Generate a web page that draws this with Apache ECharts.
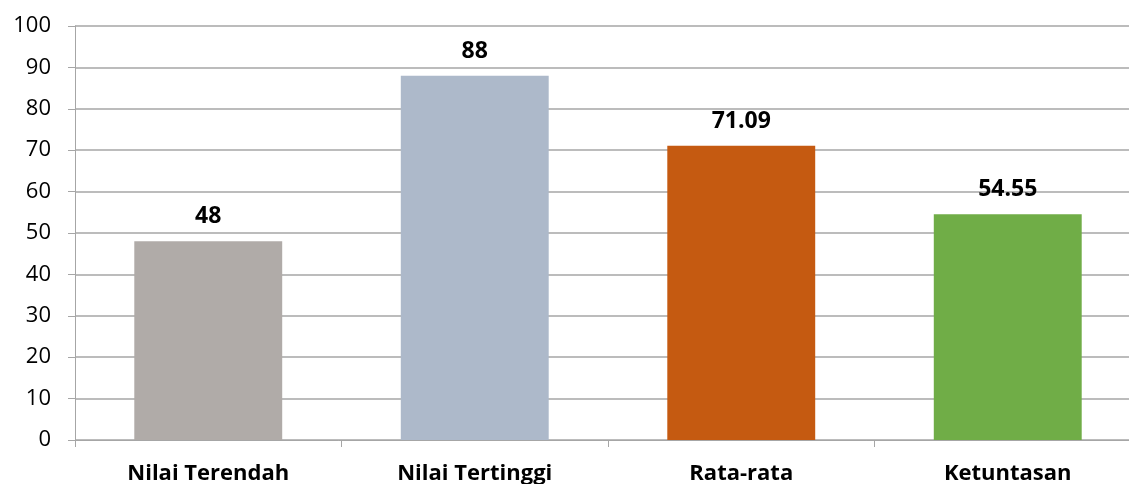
<!DOCTYPE html>
<html><head><meta charset="utf-8">
<script src="https://cdn.jsdelivr.net/npm/echarts@6/dist/echarts.min.js"></script>
<style>html,body{margin:0;padding:0;background:#fff}#c{width:1129px;height:484px}</style>
</head><body><div id="c"></div>
<script>
const categories = ['Nilai Terendah', 'Nilai Tertinggi', 'Rata-rata', 'Ketuntasan'];
const values = [48, 88, 71.09, 54.55];
const labels = ['48', '88', '71.09', '54.55'];
const colors = ['#B0ABA8', '#ADB9CA', '#C55A11', '#70AD47'];
const yTicks = [0, 100, 10];

const chart = echarts.init(document.getElementById('c'));
chart.setOption({
  animation: false,
  grid: { left: 75, width: 1066, top: 26, height: 414, containLabel: false, outerBoundsMode: 'none' },
  xAxis: {
    type: 'category', data: categories,
    axisLine: { lineStyle: { color: '#A6A6A6', width: 1 } },
    axisTick: { show: true, length: 7, lineStyle: { color: '#A6A6A6' } },
    axisLabel: { color: '#000', fontFamily: 'Open Sans', fontWeight: 'bold', fontSize: 22, margin: 23 }
  },
  yAxis: {
    type: 'value', min: yTicks[0], max: yTicks[1], interval: yTicks[2],
    axisLine: { show: true, lineStyle: { color: '#A6A6A6' } },
    axisTick: { show: true, length: 7, lineStyle: { color: '#A6A6A6' } },
    splitLine: { lineStyle: { color: '#A6A6A6', width: 1.5 } },
    axisLabel: { color: '#000', fontFamily: 'Open Sans', fontSize: 22, margin: 24 }
  },
  series: [{
    type: 'bar', barWidth: '55.5%',
    data: values.map((v, i) => ({ value: v, itemStyle: { color: colors[i] } })),
    label: {
      show: true, position: 'top', distance: 13, color: '#000', fontFamily: 'Open Sans', fontWeight: 'bold', fontSize: 23,
      formatter: p => labels[p.dataIndex]
    }
  }]
});
</script></body></html>
